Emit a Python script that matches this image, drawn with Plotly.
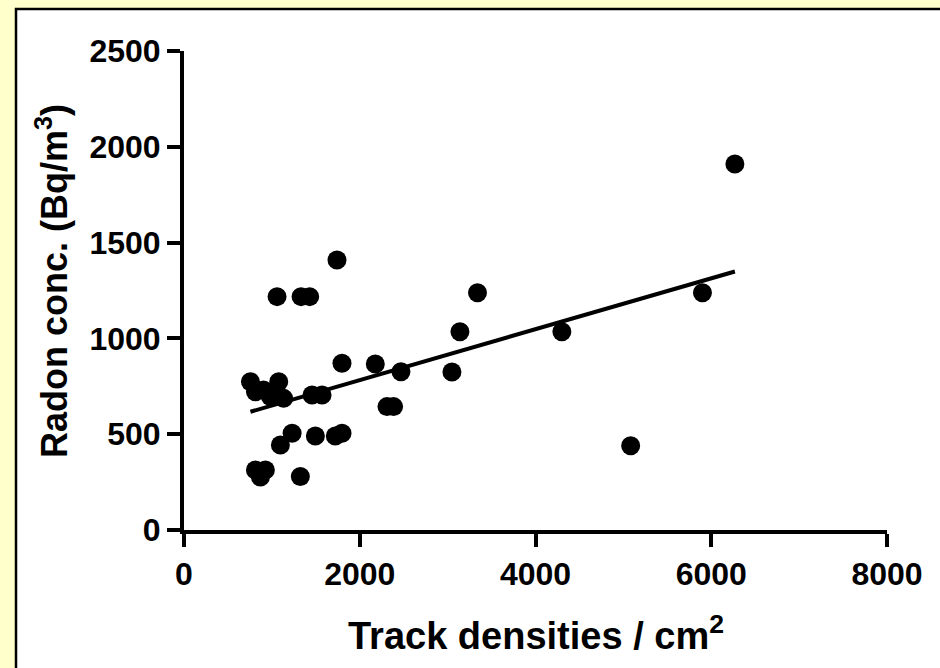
import numpy as np
import plotly.graph_objects as go

# Data
track_density = [756, 813, 904, 983, 1078, 1134, 1457, 1571, 1798, 2177,
                 1097, 1230, 1495, 1722, 1798, 813, 926, 870, 1324,
                 1059, 1332, 1430, 1741, 2310, 2385, 2469, 3049, 3140,
                 3340, 4300, 5083, 5900, 6269]
radon_conc = [774, 722, 731, 696, 774, 687, 705, 705, 870, 866,
              444, 505, 491, 491, 505, 313, 313, 277, 279,
              1218, 1218, 1218, 1409, 644, 644, 826, 825, 1035,
              1238, 1035, 440, 1238, 1910]
x_ticks = [0, 2000, 4000, 6000, 8000]
y_ticks = [0, 500, 1000, 1500, 2000, 2500]

# Linear regression line
slope, intercept = np.polyfit(track_density, radon_conc, 1)
fit_x = [min(track_density), max(track_density)]
fit_y = [slope * v + intercept for v in fit_x]

W, H = 940, 668
L, R, T, B = 184, 53, 51, 138
pw = W - L - R
ph = H - T - B

def px(xp):
    return (xp - L) / pw

def py(yp):
    return (H - B - yp) / ph

FONT = "Arial, Liberation Sans, sans-serif"

fig = go.Figure()
fig.add_trace(go.Scatter(
    x=track_density, y=radon_conc, mode="markers",
    marker=dict(color="black", size=19, line=dict(width=0)),
    showlegend=False, cliponaxis=False))
fig.add_trace(go.Scatter(
    x=fit_x, y=fit_y, mode="lines",
    line=dict(color="black", width=4),
    showlegend=False))

axis_common = dict(
    showline=True, linecolor="black", linewidth=4,
    ticks="outside", ticklen=13, tickwidth=4, tickcolor="black",
    showgrid=False, zeroline=False,
    tickfont=dict(family=FONT, size=32, color="black", weight="bold"),
)

fig.update_xaxes(range=[0, 8000], tickvals=x_ticks,
                 ticktext=[str(v) for v in x_ticks], **axis_common)
fig.update_yaxes(range=[0, 2500], tickvals=y_ticks,
                 ticktext=[str(v) for v in y_ticks], **axis_common)

fig.update_layout(
    width=W, height=H,
    margin=dict(l=L, r=R, t=T, b=B, pad=0),
    paper_bgcolor="#FFFFCC",
    plot_bgcolor="white",
    shapes=[dict(type="rect", xref="paper", yref="paper",
                 x0=px(16), x1=px(960), y0=py(700), y1=py(9),
                 fillcolor="white", line=dict(color="black", width=2.5),
                 layer="below")],
    annotations=[
        dict(text="<b>Track densities / cm<sup>2</sup></b>",
             xref="paper", yref="paper", x=px(536), y=py(633),
             xanchor="center", yanchor="middle", showarrow=False,
             font=dict(family=FONT, size=38, color="black")),
        dict(text="<b>Radon conc. (Bq/m<sup>3</sup>)</b>",
             xref="paper", yref="paper", x=px(52), y=py(281),
             xanchor="center", yanchor="middle", showarrow=False,
             textangle=-90,
             font=dict(family=FONT, size=36, color="black")),
    ],
)

fig.write_html(
    "out.html",
    config={"displayModeBar": False},
    post_script="document.body.style.margin='0';document.body.style.overflow='hidden';",
)
